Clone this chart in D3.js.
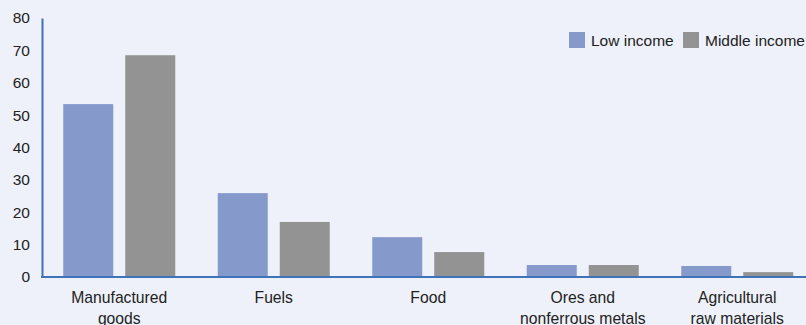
<!DOCTYPE html>
<html>
<head>
<meta charset="utf-8">
<script src="https://cdn.jsdelivr.net/npm/d3@7"></script>
<style>
  html, body { margin: 0; padding: 0; background: #eef1f9; }
  svg { display: block; }
  text { font-family: "Liberation Sans", Arial, sans-serif; fill: #222; }
</style>
</head>
<body>
<svg id="chart" width="806" height="325"></svg>
<script>
// Export composition by product group, percent
const categories = [
  ["Manufactured", "goods"],
  ["Fuels"],
  ["Food"],
  ["Ores and", "nonferrous metals"],
  ["Agricultural", "raw materials"]
];
const seriesNames = ["Low income", "Middle income"];
const lowIncome = [53.4, 25.9, 12.3, 3.7, 3.4];
const middleIncome = [68.5, 17.0, 7.7, 3.7, 1.5];
const yTicks = [0, 10, 20, 30, 40, 50, 60, 70, 80];

const colors = { "Low income": "#8599cb", "Middle income": "#939393" };

const svg = d3.select("#chart");
const plotLeft = 42, plotRight = 814.5, plotTop = 18, plotBottom = 277;

const keys = categories.map(c => c.join(" "));
const x0 = d3.scaleBand().domain(keys).range([plotLeft, plotRight]).padding(0);
const groupInner = 112;
const x1 = d3.scaleBand().domain(seriesNames)
  .range([(x0.bandwidth() - groupInner) / 2, (x0.bandwidth() + groupInner) / 2])
  .paddingInner(12 / 62).paddingOuter(0);
const y = d3.scaleLinear().domain([0, 80]).range([plotBottom, plotTop]);

const rows = keys.map((k, i) => ({ key: k, lines: categories[i], values: [lowIncome[i], middleIncome[i]] }));

// Bars
const groups = svg.append("g").selectAll("g").data(rows).join("g")
  .attr("transform", d => `translate(${x0(d.key)},0)`);
groups.selectAll("rect")
  .data(d => d.values.map((v, j) => ({ name: seriesNames[j], value: v })))
  .join("rect")
  .attr("x", d => x1(d.name))
  .attr("width", x1.bandwidth())
  .attr("y", d => y(d.value))
  .attr("height", d => y(0) - y(d.value))
  .attr("fill", d => colors[d.name]);

// Y axis
const yAxis = d3.axisLeft(y).tickValues(yTicks).tickSize(0).tickPadding(12);
const gy = svg.append("g").attr("transform", `translate(${plotLeft},0)`).call(yAxis);
gy.select(".domain").attr("stroke", "#3f73b8").attr("stroke-width", 2);
gy.selectAll(".tick text").attr("font-size", 15.5).attr("fill", "#222")
  .attr("font-family", "Liberation Sans, Arial, sans-serif");

// Baseline
svg.append("line")
  .attr("x1", plotLeft - 1).attr("x2", 806)
  .attr("y1", y(0)).attr("y2", y(0))
  .attr("stroke", "#3f73b8").attr("stroke-width", 2);

// Category labels
const labels = svg.append("g").selectAll("text").data(rows).join("text")
  .attr("text-anchor", "middle")
  .attr("font-size", 15.7)
  .attr("x", d => x0(d.key) + x0.bandwidth() / 2)
  .attr("y", 303);
labels.selectAll("tspan").data(d => d.lines.map((l, i) => ({ l, i, cx: x0(d.key) + x0.bandwidth() / 2 })))
  .join("tspan")
  .attr("x", d => d.cx)
  .attr("dy", d => d.i === 0 ? 0 : 21)
  .text(d => d.l);

// Legend
const legend = svg.append("g");
const legendPos = [569, 683];
seriesNames.forEach((name, i) => {
  const g = legend.append("g").attr("transform", `translate(${legendPos[i]},32)`);
  g.append("rect").attr("width", 16).attr("height", 16).attr("fill", colors[name]);
  g.append("text").attr("x", 22).attr("y", 13.5).attr("font-size", 15.5).text(name);
});
</script>
</body>
</html>
